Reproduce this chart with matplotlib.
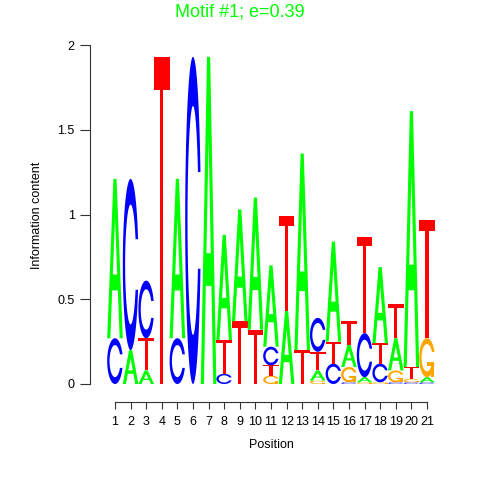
import numpy as np
import matplotlib
matplotlib.use('Agg')
import matplotlib.pyplot as plt
from matplotlib.patches import Polygon

# information content (bits) of each base at each position
positions = np.arange(1, 22)
height_A = [0.94, 0.20, 0.08, 0.00, 0.94, 0.00, 1.93, 0.62, 0.66, 0.78, 0.48,
            0.43, 1.16, 0.06, 0.59, 0.13, 0.03, 0.45, 0.19, 1.51, 0.03]
height_C = [0.27, 1.01, 0.34, 0.00, 0.27, 1.93, 0.00, 0.06, 0.00, 0.00, 0.11,
            0.00, 0.00, 0.20, 0.12, 0.01, 0.26, 0.11, 0.01, 0.01, 0.01]
height_G = [0.00, 0.00, 0.00, 0.00, 0.00, 0.00, 0.00, 0.00, 0.00, 0.00, 0.05,
            0.00, 0.00, 0.02, 0.00, 0.09, 0.01, 0.01, 0.07, 0.02, 0.23]
height_T = [0.00, 0.00, 0.19, 1.93, 0.00, 0.00, 0.00, 0.20, 0.37, 0.32, 0.06,
            0.56, 0.20, 0.11, 0.13, 0.14, 0.57, 0.12, 0.20, 0.07, 0.70]
bases = ['A', 'C', 'G', 'T']
colors = {'A': '#00FF00', 'C': '#0000FF', 'G': '#FFA500', 'T': '#FF0000'}
title = 'Motif #1; e=0.39'


# letter outlines in a unit box, seqLogo style
def c_shape():
    a1 = np.linspace(0.3 + np.pi / 2, np.pi, 100)
    a2 = np.linspace(np.pi, 1.5 * np.pi, 100)
    xl = np.concatenate([0.5 + 0.5 * np.sin(a1), 0.5 + 0.5 * np.sin(a2)])
    yl = np.concatenate([0.5 + 0.5 * np.cos(a1), 0.5 + 0.5 * np.cos(a2)])
    x = np.concatenate([xl, xl[::-1]])
    y = np.concatenate([yl, 1 - yl[::-1]])
    ymax = (0.5 + 0.5 * np.cos(a1)).max()
    xi1 = 0.5 + 0.35 * np.sin(a1)
    yi1 = 0.5 + 0.35 * np.cos(a1)
    keep = yi1 <= ymax
    xi1, yi1 = xi1[keep], yi1[keep]
    yi1[0] = ymax
    xi = np.concatenate([xi1, 0.5 + 0.35 * np.sin(a2)])
    yi = np.concatenate([yi1, 0.5 + 0.35 * np.cos(a2)])
    x1 = np.concatenate([xi, xi[::-1]])
    y1 = np.concatenate([yi, 1 - yi[::-1]])
    x = np.concatenate([x, x1[::-1]])
    y = np.concatenate([y, y1[::-1]])
    return x, y, (0.5 + 0.5 * np.sin(a1)).max()


cx, cy, r1 = c_shape()
shapes = {
    'A': [(np.array([0, 4, 6, 10, 8, 6.8, 3.2, 2]) * 0.1,
           np.array([0, 10, 10, 0, 0, 3, 3, 0]) * 0.1, None),
          (np.array([3.6, 5, 6.4]) * 0.1, np.array([4, 7.5, 4]) * 0.1, 'white')],
    'C': [(cx, cy, None)],
    'G': [(cx, cy, None),
          (np.array([r1, 0.5, 0.5, r1 - 0.2, r1 - 0.2, r1]),
           np.array([0.4, 0.4, 0.3, 0.3, 0, 0]), None)],
    'T': [(np.array([0, 10, 10, 6, 6, 4, 4, 0]) * 0.1,
           np.array([10, 10, 9, 9, 0, 0, 9, 9]) * 0.1, None)],
}


def draw_letter(ax, base, xc, y0, w, h):
    for px, py, fill in shapes[base]:
        pts = np.column_stack([xc - w / 2 + px * w, y0 + py * h])
        ax.add_patch(Polygon(pts, closed=True, facecolor=fill or colors[base],
                             edgecolor='none'))


fig = plt.figure(figsize=(4.8, 4.8), dpi=100)
# pixel geometry: x tick 1 at 115px, 21 at 427px; y 0 at 384px, 2 at 45px
ux = (427 - 115) / 20
uy = (384 - 45) / 2
x_left = 1 - (115 - 90) / ux
x_right = 21 + (462 - 427) / ux
y_bot = -(402 - 384) / uy
ax = fig.add_axes([90 / 480, (480 - 402) / 480, (462 - 90) / 480, (402 - 45) / 480])
ax.set_xlim(x_left, x_right)
ax.set_ylim(y_bot, 2)

heights = np.array([height_A, height_C, height_G, height_T])
for i, p in enumerate(positions):
    col = heights[:, i]
    order = np.argsort(col, kind='stable')
    y0 = 0.0
    for k in order:
        h = col[k]
        if h > 0:
            draw_letter(ax, bases[k], p, y0, 1.0, h)
            y0 += h

for s in ['top', 'right']:
    ax.spines[s].set_visible(False)
ax.spines['left'].set_bounds(0, 2)
ax.spines['bottom'].set_bounds(1, 21)
for s in ['left', 'bottom']:
    ax.spines[s].set_color('#333333')
    ax.spines[s].set_linewidth(0.8)
ax.set_xticks(positions)
ax.set_xticklabels([str(p) for p in positions])
ax.set_yticks([0, 0.5, 1, 1.5, 2])
ax.set_yticklabels(['0', '0.5', '1', '1.5', '2'])
ax.tick_params(axis='both', direction='out', width=0.8,
               color='#333333', labelsize=9)
ax.tick_params(axis='y', length=7, pad=4)
ax.tick_params(axis='x', length=5, pad=5)
for lab in ax.get_xticklabels() + ax.get_yticklabels():
    lab.set_family('Liberation Sans')

fig.text(271 / 480, 1 - 445 / 480, 'Position', ha='center', va='center',
         fontsize=9, family='Liberation Sans')
fig.text(37 / 480, 1 - 215 / 480, 'Information content', ha='center', va='center',
         rotation=90, fontsize=9, family='Liberation Sans')
fig.text(240 / 480, 1 - 12 / 480, title, ha='center', va='center',
         fontsize=13, color='#00FF00', family='Liberation Sans')

fig.savefig('out.png', dpi=100)
